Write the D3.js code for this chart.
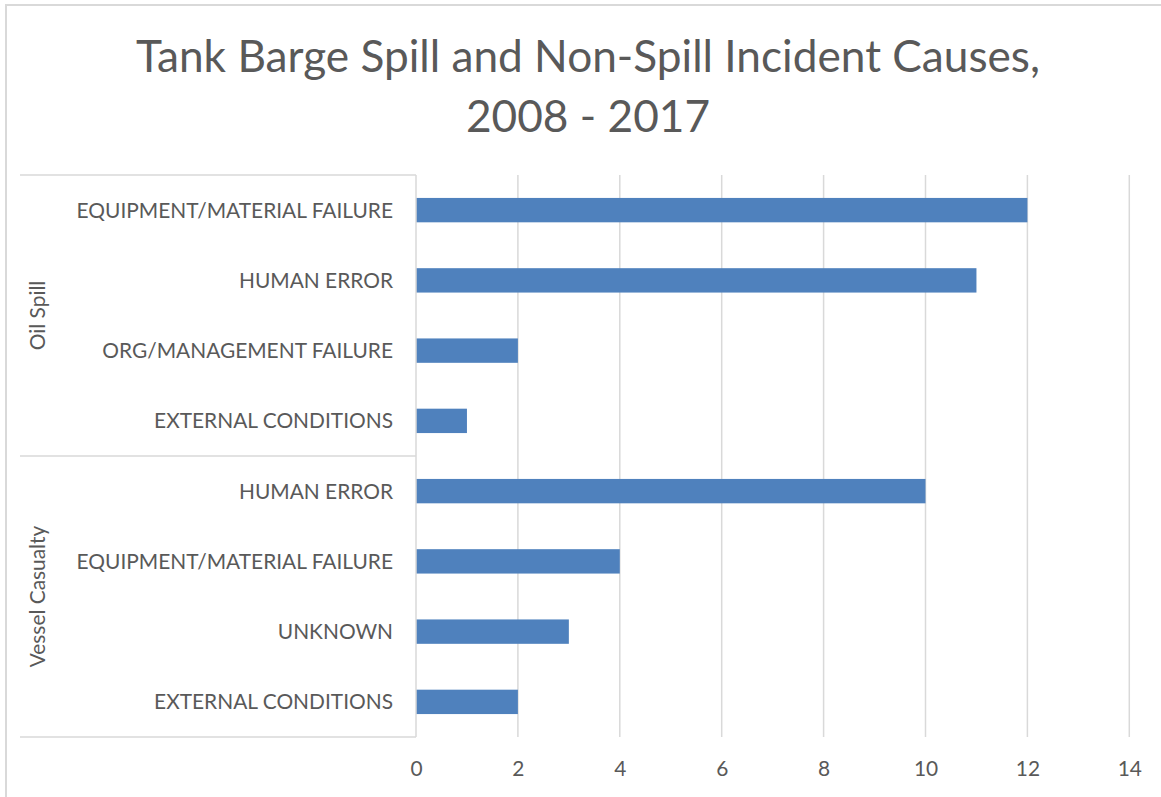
<!DOCTYPE html>
<html><head><meta charset="utf-8">
<script src="https://cdn.jsdelivr.net/npm/d3@7"></script>
<style>
body{margin:0;background:#fff;}
svg text{font-family:Lato,"Open Sans",sans-serif;fill:#595959;}
</style></head>
<body><svg id="c" width="1161" height="797"></svg>
<script>
const titleLines = ["Tank Barge Spill and Non-Spill Incident Causes,", "2008 - 2017"];
const groups = ["Oil Spill", "Vessel Casualty"];
const categories = [
  "EQUIPMENT/MATERIAL FAILURE", "HUMAN ERROR", "ORG/MANAGEMENT FAILURE", "EXTERNAL CONDITIONS",
  "HUMAN ERROR", "EQUIPMENT/MATERIAL FAILURE", "UNKNOWN", "EXTERNAL CONDITIONS"
];
const categoryGroup = [0,0,0,0,1,1,1,1];
const values = [12, 11, 2, 1, 10, 4, 3, 2];
const xTicks = [0,2,4,6,8,10,12,14];

const svg = d3.select("#c");
const L = 416, R = 1129.3, T = 175, B = 737;
const grid = "#d9d9d9";

// outer border
svg.append("rect").attr("x",6).attr("y",5).attr("width",1200).attr("height",900)
  .attr("fill","none").attr("stroke",grid).attr("stroke-width",2);

// title
svg.append("g").selectAll("text").data(titleLines).join("text")
  .attr("x",588).attr("y",(d,i)=>72+i*60).attr("text-anchor","middle")
  .style("font-size","44.2px").text(d=>d);

const x = d3.scaleLinear().domain([0,14]).range([L,R]);
const keys = categories.map((c,i)=>i);
const y = d3.scaleBand().domain(keys).range([T,B]).paddingInner(0.653).paddingOuter(0.3265);

// gridlines
svg.append("g").selectAll("line").data(xTicks.filter(t=>t>0)).join("line")
  .attr("x1",d=>x(d)).attr("x2",d=>x(d)).attr("y1",T).attr("y2",B)
  .attr("stroke",grid).attr("stroke-width",1.5);

// bars
svg.append("g").selectAll("rect").data(values).join("rect")
  .attr("x",x(0)).attr("y",(d,i)=>y(i)).attr("width",d=>x(d)-x(0)).attr("height",y.bandwidth())
  .attr("fill","#4f81bd");

// axis structure lines
const bandStep = (B-T)/categories.length;
const groupBounds = [T, T+4*bandStep, B];
svg.append("g").selectAll("line").data(groupBounds).join("line")
  .attr("x1",20).attr("x2",L).attr("y1",d=>d).attr("y2",d=>d)
  .attr("stroke",grid).attr("stroke-width",1.5);
svg.append("line").attr("x1",L).attr("x2",L).attr("y1",T).attr("y2",B)
  .attr("stroke",grid).attr("stroke-width",1.5);

// category labels
svg.append("g").selectAll("text").data(categories).join("text")
  .attr("x",393).attr("y",(d,i)=>y(i)+y.bandwidth()/2).attr("dy","0.36em")
  .attr("text-anchor","end").style("font-size","20.9px").text(d=>d);

// group labels
svg.append("g").selectAll("text").data(groups).join("text")
  .attr("transform",(d,i)=>`translate(45,${(groupBounds[i]+groupBounds[i+1])/2}) rotate(-90)`)
  .attr("text-anchor","middle").style("font-size","20.9px").text(d=>d);

// x tick labels
const xAxis = d3.axisBottom(x).tickValues(xTicks).tickSize(0).tickPadding(0);
const ax = svg.append("g").attr("transform",`translate(0,${B})`).call(xAxis);
ax.select(".domain").remove();
ax.selectAll("text").attr("y",39).attr("dy",0).style("font-size","20.9px")
  .style("font-family","Lato,'Open Sans',sans-serif").attr("fill","#595959");
</script></body></html>
